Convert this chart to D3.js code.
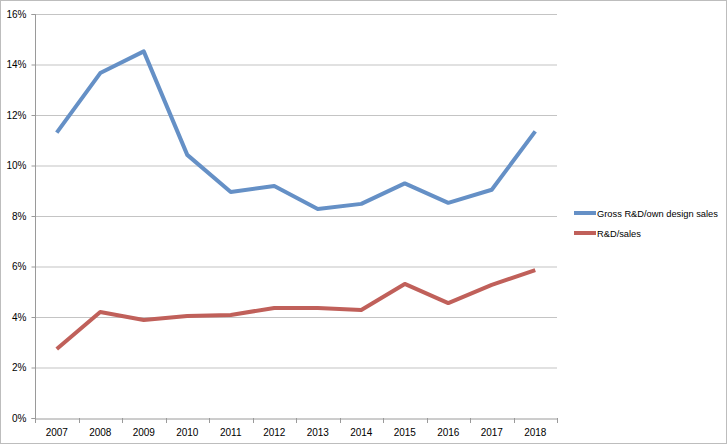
<!DOCTYPE html>
<html><head><meta charset="utf-8">
<script src="https://cdn.jsdelivr.net/npm/d3@7"></script>
<style>body{margin:0;background:#fff}svg{display:block}</style>
</head><body>
<script>
const years = ["2007","2008","2009","2010","2011","2012","2013","2014","2015","2016","2017","2018"];
const grossRD = [11.3,13.66,14.52,10.42,8.95,9.19,8.28,8.48,9.29,8.52,9.04,11.35];
const rdSales = [2.73,4.2,3.88,4.04,4.08,4.36,4.36,4.28,5.31,4.55,5.27,5.86];
const yTicks = [0,2,4,6,8,10,12,14,16];
const seriesNames = ["Gross R&D/own design sales","R&D/sales"];
const colors = ["#6590c6","#c0605a"];

const W=727,H=444;
const svg=d3.select("body").append("svg").attr("width",W).attr("height",H);
svg.append("rect").attr("x",0.5).attr("y",0.5).attr("width",W-1).attr("height",H-1).attr("fill","#fff").attr("stroke","#bdbdbd");

const L=35,R=557,T=14,B=418;
const x=d3.scaleBand().domain(years).range([L,R]);
const y=d3.scaleLinear().domain([0,16]).range([B,T]);
const font="'Liberation Sans', Arial, sans-serif";

svg.append("g").selectAll("line").data(yTicks.filter(d=>d>0)).join("line")
  .attr("x1",L).attr("x2",R).attr("y1",d=>y(d)+0.5).attr("y2",d=>y(d)+0.5)
  .attr("stroke","#c4c4c4").attr("stroke-width",1.2);

const ya=svg.append("g").attr("transform",`translate(${L+0.5},0)`)
  .call(d3.axisLeft(y).tickValues(yTicks).tickFormat(d=>d+"%").tickSize(4).tickPadding(5));
ya.select(".domain").attr("stroke","#9a9a9a").attr("d",`M-4,${T+0.5}H0V${B+0.5}H-4`);
ya.selectAll(".tick line").attr("stroke","#9a9a9a");
ya.selectAll("text").attr("font-family",font).attr("font-size",10).attr("fill","#000");

const xa=svg.append("g").attr("transform",`translate(0,${B+0.5})`)
  .call(d3.axisBottom(x).tickSize(0).tickPadding(10));
xa.select(".domain").attr("stroke","#9a9a9a");
xa.selectAll("text").attr("font-family",font).attr("font-size",10).attr("fill","#000");
xa.selectAll(".tick line").remove();
const bounds=years.map(d=>x(d)).concat([R]);
svg.append("g").selectAll("line").data(bounds).join("line")
  .attr("x1",d=>Math.round(d)+0.5).attr("x2",d=>Math.round(d)+0.5)
  .attr("y1",B).attr("y2",B+5).attr("stroke","#9a9a9a");

const line=d3.line().x((d,i)=>x(years[i])+x.bandwidth()/2).y(d=>y(d));
[grossRD,rdSales].forEach((s,k)=>{
  svg.append("path").datum(s).attr("d",line).attr("fill","none")
    .attr("stroke",colors[k]).attr("stroke-width",4).attr("stroke-linejoin","round");
});

seriesNames.forEach((n,k)=>{
  const ly=213+k*20;
  svg.append("line").attr("x1",574).attr("x2",596).attr("y1",ly).attr("y2",ly)
    .attr("stroke",colors[k]).attr("stroke-width",4);
  svg.append("text").attr("x",597).attr("y",ly+3.5).text(n)
    .attr("font-family",font).attr("font-size",9.3).attr("fill","#000");
});
</script>
</body></html>
